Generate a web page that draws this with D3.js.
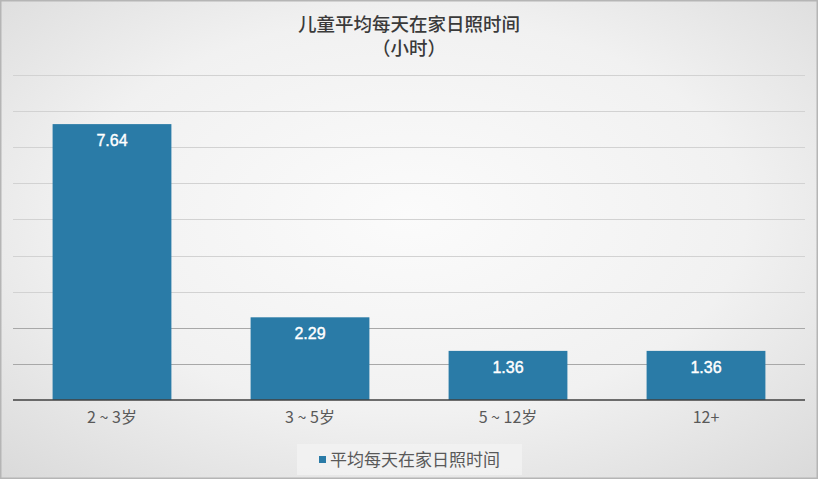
<!DOCTYPE html>
<html>
<head>
<meta charset="utf-8">
<script src="https://cdn.jsdelivr.net/npm/d3@7"></script>
<style>
  html, body { margin: 0; padding: 0; background: #fff; }
  svg { display: block; }
</style>
</head>
<body>
<svg id="chart" width="818" height="479"></svg>
<script>
// Average daily sunlight time at home, by child age group (hours)
const categories = ["2 ~ 3岁", "3 ~ 5岁", "5 ~ 12岁", "12+"];
const values = [7.64, 2.29, 1.36, 1.36];
const yTicks = [1, 2, 3, 4, 5, 6, 7, 8, 9];
const titleLines = ["儿童平均每天在家日照时间", "（小时）"];
const seriesName = "平均每天在家日照时间";

const W = 818, H = 479;
const margin = { left: 13, right: 13, top: 75, bottom: 79 };
const barColor = "#2a7ba7";
const cjk = "'Noto Sans CJK SC', 'Noto Sans', sans-serif";
const latin = "'Liberation Sans', Arial, sans-serif";

const svg = d3.select("#chart");

// Soft radial background with a thin frame
const defs = svg.append("defs");
const bg = defs.append("radialGradient").attr("id", "bg")
  .attr("cx", "50%").attr("cy", "45%").attr("r", "75%");
bg.append("stop").attr("offset", "0%").attr("stop-color", "#fbfbfb");
bg.append("stop").attr("offset", "55%").attr("stop-color", "#f1f1f1");
bg.append("stop").attr("offset", "100%").attr("stop-color", "#d9d9d9");

svg.append("rect").attr("x", 0).attr("y", 0).attr("width", W).attr("height", H)
  .attr("fill", "url(#bg)");
svg.append("rect").attr("x", 0.75).attr("y", 0.75).attr("width", W - 1.5).attr("height", H - 1.5)
  .attr("fill", "none").attr("stroke", "#b5b5b5").attr("stroke-width", 1.5);

const x = d3.scaleBand()
  .domain(categories)
  .range([margin.left, W - margin.right])
  .paddingInner(0.4).paddingOuter(0.2);

const y = d3.scaleLinear()
  .domain([0, 9])
  .range([H - margin.bottom, margin.top]);

// Horizontal gridlines
svg.append("g")
  .selectAll("line")
  .data(yTicks)
  .join("line")
  .attr("x1", margin.left).attr("x2", W - margin.right)
  .attr("y1", d => Math.round(y(d)) + 0.5).attr("y2", d => Math.round(y(d)) + 0.5)
  .attr("stroke", d => d <= 2 ? "#a8a8a8" : "#d2d2d2")
  .attr("stroke-width", 1);

// Bars
svg.append("g")
  .selectAll("rect")
  .data(values)
  .join("rect")
  .attr("x", (d, i) => x(categories[i]))
  .attr("y", d => y(d))
  .attr("width", x.bandwidth())
  .attr("height", d => y(0) - y(d))
  .attr("fill", barColor);

// Baseline
svg.append("line")
  .attr("x1", margin.left).attr("x2", W - margin.right)
  .attr("y1", y(0)).attr("y2", y(0))
  .attr("stroke", "#404040").attr("stroke-width", 1.5);

// Value labels inside bars
svg.append("g")
  .selectAll("text")
  .data(values)
  .join("text")
  .attr("x", (d, i) => x(categories[i]) + x.bandwidth() / 2)
  .attr("y", d => y(d) + 22)
  .attr("text-anchor", "middle")
  .attr("fill", "#ffffff")
  .attr("font-family", latin)
  .attr("font-size", 16)
  .style("paint-order", "stroke")
  .attr("stroke", "#ffffff")
  .attr("stroke-width", 0.4)
  .text(d => d.toFixed(2));

// Category axis labels
const xAxis = d3.axisBottom(x).tickSize(0).tickPadding(12);
const gx = svg.append("g").attr("transform", `translate(0,${y(0)})`).call(xAxis);
gx.select(".domain").remove();
gx.selectAll("text")
  .attr("fill", "#595959")
  .attr("font-family", cjk)
  .attr("font-size", 16);

// Title
svg.append("g")
  .selectAll("text")
  .data(titleLines)
  .join("text")
  .attr("x", W / 2)
  .attr("y", (d, i) => 31 + i * 24)
  .attr("text-anchor", "middle")
  .attr("fill", "#3a3a3a")
  .attr("font-family", cjk)
  .attr("font-weight", 500)
  .attr("font-size", 18.5)
  .text(d => d);

// Legend
const legend = svg.append("g");
legend.append("rect").attr("x", 297).attr("y", 444).attr("width", 225).attr("height", 31)
  .attr("fill", "#f2f2f2").attr("opacity", 0.8);
legend.append("rect").attr("x", 319).attr("y", 456).attr("width", 7).attr("height", 7)
  .attr("fill", barColor);
legend.append("text").attr("x", 330).attr("y", 466)
  .attr("fill", "#595959")
  .attr("font-family", cjk)
  .attr("font-size", 17)
  .text(seriesName);
</script>
</body>
</html>
